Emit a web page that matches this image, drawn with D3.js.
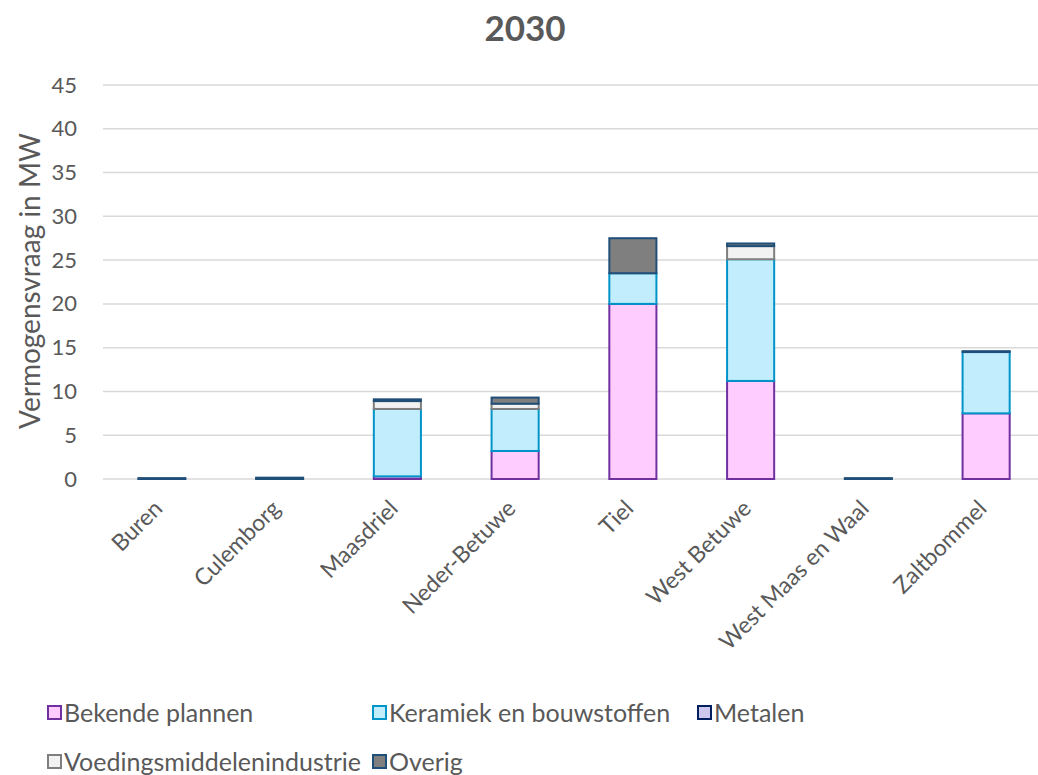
<!DOCTYPE html>
<html>
<head>
<meta charset="utf-8">
<script src="https://cdn.jsdelivr.net/npm/d3@7"></script>
<style>
  body { margin: 0; background: #fff; }
  text { font-family: Lato, "Open Sans", sans-serif; fill: #595959; }
</style>
</head>
<body>
<svg id="chart" width="1038" height="775"></svg>
<script>
// gemeenten
var categories = ["Buren", "Culemborg", "Maasdriel", "Neder-Betuwe", "Tiel", "West Betuwe", "West Maas en Waal", "Zaltbommel"];
// series, bottom to top
var bekendePlannen = [0, 0, 0.3, 3.2, 20.0, 11.2, 0, 7.5];
var keramiek = [0, 0, 7.7, 4.8, 3.5, 13.9, 0, 7.0];
var metalen = [0, 0, 0, 0, 0, 0, 0, 0];
var voedings = [0, 0, 0.9, 0.6, 0, 1.5, 0, 0];
var overig = [0.1, 0.15, 0.2, 0.7, 4.0, 0.3, 0.1, 0.1];
var yTicks = [0, 5, 10, 15, 20, 25, 30, 35, 40, 45];

var series = [
  {name: "Bekende plannen", values: bekendePlannen, fill: "#ffccff", stroke: "#7030a0"},
  {name: "Keramiek en bouwstoffen", values: keramiek, fill: "#c1edfc", stroke: "#0094c9"},
  {name: "Metalen", values: metalen, fill: "#cdc9ee", stroke: "#002060"},
  {name: "Voedingsmiddelenindustrie", values: voedings, fill: "#f2f2f2", stroke: "#7f7f7f"},
  {name: "Overig", values: overig, fill: "#7f7f7f", stroke: "#1f4e79"}
];

var svg = d3.select("#chart");
var margin = {left: 103, right: 1045, top: 85, bottom: 479};

var x = d3.scaleBand()
    .domain(categories)
    .range([margin.left, margin.right])
    .paddingInner(0.6)
    .paddingOuter(0.3);
var y = d3.scaleLinear()
    .domain([0, 45])
    .range([margin.bottom, margin.top]);

// title
svg.append("text")
    .attr("x", 525).attr("y", 41)
    .attr("text-anchor", "middle")
    .style("font-size", "35px")
    .style("font-weight", "bold")
    .text("2030");

// gridlines
svg.append("g").selectAll("line")
    .data(yTicks)
    .enter().append("line")
    .attr("x1", margin.left).attr("x2", margin.right)
    .attr("y1", function (d) {return y(d);})
    .attr("y2", function (d) {return y(d);})
    .attr("stroke", "#d9d9d9")
    .attr("stroke-width", 1.5);

// y axis
var yAxis = svg.append("g")
    .attr("transform", "translate(" + margin.left + ",0)")
    .call(d3.axisLeft(y).tickValues(yTicks).tickSize(0).tickPadding(26));
yAxis.select(".domain").remove();
yAxis.selectAll("text")
    .style("font-size", "22px")
    .style("font-family", "Lato, sans-serif")
    .attr("fill", "#595959");

svg.append("text")
    .attr("transform", "translate(40,281) rotate(-90)")
    .attr("text-anchor", "middle")
    .style("font-size", "28px")
    .text("Vermogensvraag in MW");

// stacked bars
var table = categories.map(function (c, i) {
  var row = {cat: c};
  series.forEach(function (s) { row[s.name] = s.values[i]; });
  return row;
});
var stack = d3.stack().keys(series.map(function (s) {return s.name;}));
var layers = stack(table);

svg.append("g").selectAll("g")
    .data(layers)
    .enter().append("g")
    .each(function (layer, li) {
      var s = series[li];
      d3.select(this).selectAll("rect")
        .data(layer.filter(function (d) {return d[1] - d[0] > 0;}))
        .enter().append("rect")
        .attr("x", function (d) {return x(d.data.cat);})
        .attr("width", x.bandwidth())
        .attr("y", function (d) {return y(d[1]);})
        .attr("height", function (d) {return Math.max(0.5, y(d[0]) - y(d[1]));})
        .attr("fill", s.fill)
        .attr("stroke", s.stroke)
        .attr("stroke-width", 2);
    });

// x labels
svg.append("g").selectAll("text")
    .data(categories)
    .enter().append("text")
    .attr("transform", function (d) {
      return "translate(" + (x(d) + x.bandwidth() / 2 + 2) + ",510) rotate(-45)";
    })
    .attr("text-anchor", "end")
    .style("font-size", "23px")
    .text(function (d) {return d;});

// legend, laid out as a 3-column grid like the original
var colX = [47, 372, 697], rowY = [713, 762];
var lg = svg.append("g").selectAll("g")
    .data(series)
    .enter().append("g")
    .attr("transform", function (d, i) {
      return "translate(" + colX[i % 3] + "," + rowY[Math.floor(i / 3)] + ")";
    });
lg.append("rect")
    .attr("x", 1).attr("y", -7)
    .attr("width", 13).attr("height", 13)
    .attr("fill", function (d) {return d.fill;})
    .attr("stroke", function (d) {return d.stroke;})
    .attr("stroke-width", 2);
lg.append("text")
    .attr("x", 17).attr("y", 0)
    .attr("dy", "0.35em")
    .style("font-size", "25px")
    .text(function (d) {return d.name;})
    .each(function () {
      // don't let a label run into the next column
      var room = colX[1] - colX[0] - 24;
      if (this.getComputedTextLength() > room)
        d3.select(this).attr("textLength", room).attr("lengthAdjust", "spacingAndGlyphs");
    });
</script>
</body>
</html>
